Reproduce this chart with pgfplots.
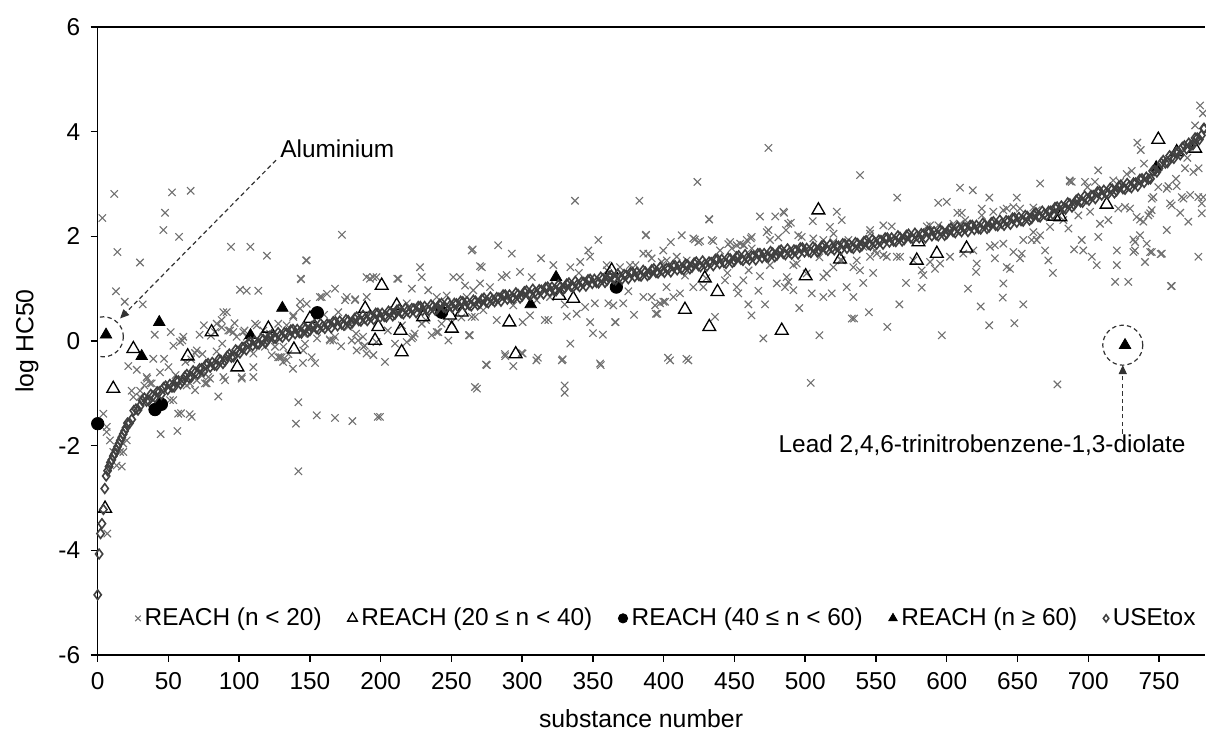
\documentclass[border=0pt]{standalone}
\usepackage{fontspec}
\setmainfont{Liberation Sans}
\usepackage{pgfplots}
\pgfplotsset{compat=1.18}
\usetikzlibrary{arrows.meta}
\definecolor{crossgray}{RGB}{112,112,112}
\definecolor{bandgray}{RGB}{64,64,64}
\definecolor{annot}{RGB}{50,50,50}
\begin{document}
\fontsize{12.2}{14.6}\selectfont
\begin{tikzpicture}[font=\fontsize{12.2}{14.6}\selectfont]
\useasboundingbox (-48.85pt,-38pt) rectangle (554.15pt,327.5pt);
\begin{axis}[
  at={(0pt,0pt)}, anchor=south west,
  scale only axis, width=553.65pt, height=314pt,
  xmin=0, xmax=782.5, ymin=-6, ymax=6,
  axis y line*=left,
  xtick={0,50,...,750}, ytick={-6,-4,...,6},
  xtick pos=bottom,
  tick align=outside, major tick length=3.5pt,
  axis line style={line width=0.75pt, black},
  every tick/.style={black, line width=0.75pt},
  /pgf/number format/assume math mode=true,
  tick label style={font=\fontsize{12.2}{14.6}\selectfont},
  xticklabel style={yshift=-1pt},
  yticklabel style={xshift=-1pt},
  xlabel={substance number}, ylabel={log HC50},
  label style={font=\fontsize{12.4}{14.6}\selectfont},
  xlabel style={at={(axis description cs:0.4907,0)}, anchor=base, yshift=-36.5pt},
  ylabel style={at={(axis description cs:-0.0638,0.5)}, anchor=center},
  legend image code/.code={\draw[#1,/tikz/every mark/.append style={scale=0.75}] plot coordinates {(0.1cm,0cm)};},
  legend style={at={(axis cs:22,-5.30)}, anchor=west, draw=none, fill=none,
    legend columns=-1, font=\fontsize{12.2}{14.6}\selectfont,
    /tikz/every even column/.append style={column sep=11pt},
    nodes={inner xsep=2pt}},
]
% REACH n < 20
\addplot[only marks, mark=x, mark size=2.6pt, crossgray, mark options={line width=0.55pt}] coordinates {
(3.3,2.35)(11.7,2.81)(13.9,1.70)(29.9,1.50)(12.9,0.95)(19.1,0.75)(31.8,0.70)(52.5,2.84)(65.7,2.87)(47.6,2.45)(46.4,2.12)(57.5,1.99)(94.2,1.80)(91.2,0.55)(40.3,0.12)(51.6,0.17)(59.8,0.01)(53.5,-0.09)(39.3,-0.34)(46.9,-0.34)(21.6,-0.48)(27.6,-0.55)(85.2,-1.06)(88.8,-0.69)(53.4,-1.13)(58.9,-1.38)(66.4,-1.45)(65,-1.40)(44.5,-1.78)(56.3,-1.72)(17,-2.40)(18.1,-2.12)(6.8,-3.68)(4,-1.39)(6.3,-1.74)(35,-0.72)(37,-0.81)(101.8,-0.72)
(60.5,0.08)(68.8,-0.23)(65.2,-0.81)(68.8,-0.94)(77,-0.81)(78.2,-0.69)(90,-0.75)(98.2,0.08)(58.2,-0.02)(70,-0.18)(84.1,0.33)(87.6,0.40)(88.8,0.55)(82.9,0.17)(93.5,0.20)(95.8,0.17)(34.6,-0.69)(38.2,-0.81)(25.2,-1.07)(29.9,-1.07)(51.1,-1.13)(56.9,-1.39)(6.4,-1.64)(18.1,-1.96)(15.8,-2.12)(13.4,-2.38)(8.7,-1.90)(11,-2.12)(70,-0.75)(73.5,-0.66)(75.8,-0.81)(79.4,-0.72)(62.9,-0.85)(20.5,-1.90)(92.3,0.20)(87.6,0.26)(96.7,0.34)(80,0.1)(75,0.3)(72,0.12)(84,-0.2)(88,-0.05)(62,-0.4)(66,-0.35)(74,-0.25)(44,-0.6)(50,-0.5)(55,-0.65)(24,-0.95)(30,-0.95)(33,-0.85)
(100.6,0.98)(105.3,0.96)(113.5,0.96)(107.9,1.80)(119.6,1.63)(147.7,1.54)(172.6,2.03)(143.7,1.18)(147.7,0.71)(110,-0.69)(141.8,-1.17)(140.1,-1.58)(154.8,-1.42)(167.7,-1.47)(180,-1.53)(197.9,-1.45)(141.8,-2.49)(131,-0.40)(138,-0.53)(145,-0.42)(153.6,-0.42)
(105.3,0.08)(111.2,0.33)(117,-0.05)(123,-0.27)(127.6,-0.31)(131.2,-0.11)(127.6,0.33)(110,-0.50)(101.8,-0.69)(102.9,0.17)(117,0.20)(125.3,-0.11)(130,-0.31)(103.7,0.20)(112.4,0.30)(121.8,0.14)(133.5,0.30)(138.2,0.49)(143,0.75)(118.2,-0.11)(110,-0.24)(128.8,-0.31)(134.8,-0.25)(145.3,0.14)(145.3,-0.18)(151.2,-0.31)
(157,0.84)(167.7,1.0)(162,0.9)(174.8,0.78)(182,0.80)(190,1.22)(194.7,1.22)(164,0.03)(166.5,0.01)(184,0.01)(188.8,-0.09)(177,0.27)(182.6,0.14)(158.3,0.84)(176,0.84)(181.8,0.78)(190.1,0.84)(164.2,0.01)(167.7,0.08)(179.5,0.01)(187.5,0.08)(187.7,-0.11)(138.2,0.46)(143,0.62)(133.6,-0.37)(146.5,-0.05)(183,-0.18)(197,-0.02)(190,-0.24)(194.8,-0.27)(143.5,1.19)(147.2,1.54)(192.4,1.19)(197,1.22)(160,0.5)(170,0.55)(155,0.05)(172,-0.1)
(203,-0.40)(199.5,-1.45)(212.5,1.19)(211.7,1.19)(222,1.0)(227.8,1.41)(229,1.22)(222,0.05)(224,0.14)(218.4,0.72)(225.4,0.65)(233.6,0.97)(239.6,0.84)(246.6,0.87)(260.8,0.84)(210.1,-0.05)(218.4,-0.02)(223,0.08)(229,0.33)(239.6,0.17)(247.8,0.01)(262.4,0.11)(236,0.11)(243,0.33)(253.7,0.65)(265.4,0.97)(240.7,0.17)(262.6,0.11)(251.3,1.22)(256,1.22)(259.6,1.06)(264.3,1.73)(265,1.75)(283,1.83)(292.6,1.67)(270.2,1.43)(271.4,1.41)(268,-0.91)(275,-0.46)(293.7,-0.48)(288,-0.29)(300.3,-0.24)(274.4,-0.45)(266.6,-0.88)(270.2,1.10)(277.2,1.03)(285.5,1.22)(289,1.26)(298.4,1.32)(266.6,0.46)(272.5,0.59)(279.6,0.75)(293.7,0.68)(287.8,0.84)(263,0.11)(264.3,0.46)(300.3,0.36)(299.6,-0.23)(287.8,-0.25)(205,0.2)(215,0.3)(232,0.4)(250,0.35)(257,0.45)(282,0.4)
(310,-0.37)(328,-0.37)(330,-0.85)(330,-0.99)(355.5,-0.46)(311,-0.32)(328.6,-0.35)(355,-0.43)(337.3,2.68)(382.8,2.68)(313.3,1.58)(353.8,1.93)(387.3,2.02)(346.7,1.73)(394.5,0.52)(379,0.50)(366,0.36)(348,0.36)(350,0.15)(357,0.12)(334,-0.05)(305.5,0.49)(316,0.40)(318.5,0.40)(331.5,0.47)(365.6,0.36)(395.5,0.52)(306.7,1.22)(322,1.45)(334,1.41)(341,1.51)(348,1.61)(359.7,1.45)(369.1,1.41)(376.2,1.45)(385.6,1.67)(389.1,1.67)(391.5,1.58)(398.6,1.51)(399.7,1.73)(310.2,0.78)(338.5,0.52)(344.4,0.65)(351.3,0.72)(360.9,0.72)(364.4,0.68)(371.4,0.72)(385.6,0.84)(391.5,0.84)(393.9,0.68)(399.7,0.75)(319.6,0.84)(387.5,2.03)(330,0.7)(375,0.95)(340,1.3)(360,1.35)(380,1.45)
(404.5,-0.37)(417.4,-0.37)(403,-0.32)(416,-0.34)(474,3.69)(423.8,3.04)(432,2.33)(468,2.38)(478.8,2.38)(484.6,2.47)(412.7,2.02)(405,1.89)(422,1.94)(425.7,1.91)(435,1.91)(445.6,1.85)(451.6,1.83)(456.8,1.83)(461.5,1.96)(474,2.12)(481,1.98)(488,2.24)(470.4,0.05)(462,0.49)(459.8,0.70)(471.6,0.70)(466.9,0.96)(468,1.24)(402,1.03)(400.9,0.75)(428,1.03)(436.2,0.46)(443.3,1.16)(451.6,1.03)(452.7,0.91)(456.3,1.16)(495.8,0.63)(486.9,1.22)(488.1,1.13)(491.6,1.45)(494,1.48)(501,1.29)(402.1,1.54)(409.2,1.61)(416.3,1.54)(439.8,1.73)(448.1,1.77)(456.3,1.83)(462.2,1.77)(475.1,1.93)(497.5,1.99)(397.4,0.72)(406.8,0.84)(411.5,0.91)(420.9,1.03)(479.9,1.10)(485.7,1.03)(491.6,0.97)(420.9,1.96)(424.5,1.89)(433.9,1.93)(446.9,1.89)(454,1.86)(458.7,1.93)(462.2,1.99)(472.8,2.08)(486.4,2.12)(489.8,2.26)(495.1,2.02)(432.2,2.32)(485,2.45)(430,1.2)(445,1.3)(460,1.35)(475,1.45)(415,1.25)
(503.9,-0.80)(510,0.11)(545,0.55)(558,0.27)(566.5,0.70)(596.5,0.11)(541,1.11)(571.2,1.11)(582.3,1.02)(548,1.30)(538.7,3.17)(565,2.74)(594,2.64)(600,2.66)(522.3,2.47)(525.8,2.31)(505.3,2.29)(517.5,2.18)(520,2.05)(504.6,0.91)(512.8,0.84)(518.7,0.91)(529.3,1.03)(534,0.84)(512.8,1.22)(515.2,1.29)(519.9,1.41)(525.8,1.54)(532.9,0.43)(505.7,1.96)(512.8,1.93)(519.9,1.89)(530.5,1.93)(555.2,2.21)(561.1,2.19)(588.2,2.21)(545.8,2.12)(545.8,2.05)(534,1.41)(538.7,1.35)(550.5,1.67)(557.6,1.61)(564.7,1.61)(583.5,1.26)(582.3,1.35)(591.7,1.38)(534.5,0.43)(585.9,2.19)(594.1,2.21)(536.4,1.54)(545.8,1.61)(555.2,1.64)(567,1.61)(576.4,1.54)(588.2,1.51)(595.3,1.48)(541,1.80)(549.3,1.73)(510,1.6)(525,1.55)
(609.4,2.93)(618.4,2.88)(630.1,2.74)(649.5,2.74)(666,3.01)(687,3.05)(607.5,2.45)(624.7,2.53)(642.4,2.53)(647.1,2.56)(661.2,2.55)(624,0.66)(639.6,0.83)(654.1,0.70)(647.8,0.34)(621.2,1.48)(620.7,1.32)(634,1.83)(634,1.58)(642.4,1.41)(644.7,1.38)(647.1,1.70)(653,1.67)(651.8,1.58)(660,1.93)(609.4,2.24)(610.6,2.45)(604.7,2.24)(613,2.31)(624.7,2.40)(632.9,2.47)(640,2.50)(651.8,2.53)(663.6,2.50)(602.3,1.61)(611.7,1.67)(618.8,1.73)(630.6,1.80)(640,1.86)(654.1,1.93)(663.6,1.93)(669.5,1.73)(671.8,1.54)(695.4,1.93)(696.5,1.73)(702.5,1.61)(706,1.45)(661.2,2.08)(666,2.02)(673,2.18)(682.4,2.31)(686,2.15)(693,2.40)(678.2,-0.83)(686.9,3.07)(688.3,3.04)(697.7,3.04)(699.4,2.94)(630,0.3)(640,1.1)(615,1.0)(675,1.3)(690,1.75)
(704.8,3.04)(707,3.26)(717.7,3.07)(722.5,3.04)(734.7,3.79)(737.1,3.65)(739.4,3.39)(730.7,3.25)(727.2,3.19)(768.4,3.30)(774.3,3.23)(749.5,2.94)(756.6,2.96)(762.5,2.96)(755.5,2.91)(746,2.75)(744.8,2.50)(757.8,2.63)(759,2.59)(766.1,2.75)(767.3,2.72)(780.2,2.63)(780.2,2.44)(770.7,2.28)(755.5,2.12)(777.8,1.61)(759,1.05)(719,1.13)(728.3,1.13)(720.2,1.73)(720.2,1.45)(707.1,1.99)(733.1,1.89)(741.3,1.86)(740.1,1.51)(736.6,2.02)(731.9,1.70)(744.9,1.70)(752,1.67)(736.6,2.32)(743.7,2.44)(744.9,2.72)(701.3,2.47)(708.3,2.24)(714.2,2.31)(721.2,2.53)(726,2.56)(729.5,2.53)(734.2,2.37)(738.9,2.28)(742.5,2.40)(772,2.79)(777.8,2.75)(781.3,2.75)(775.5,4.12)(781,4.35)(779,4.5)(731.9,1.94)(743.7,1.70)(751.2,1.66)(733,1.73)(758.5,1.05)(762,3.1)(770,3.5)(778,3.3)(765,2.45)
};
\addlegendentry{REACH (n < 20)}
% REACH 20 <= n < 40
\addplot[only marks, mark=triangle, mark size=3.7pt, black, mark options={fill=white, line width=0.65pt}] coordinates {
(5.2,-3.2)(11,-0.91)(25.2,-0.15)(63.6,-0.29)(80.5,0.17)(98.7,-0.50)(120.6,0.24)(138.7,-0.16)(150,0.43)(189,0.62)(196,0.01)(198.3,0.27)(200.7,1.06)(211.3,0.68)(214,0.20)(214.8,-0.21)(230,0.46)(249,0.49)(250.2,0.24)(257.2,0.55)(290.9,0.36)(295.4,-0.25)(326.2,0.87)(336.1,0.81)(363.2,1.35)(415,0.60)(429,1.20)(432.2,0.27)(438,0.94)(483.4,0.20)(500.3,1.24)(509.3,2.50)(524.6,1.56)(578.8,1.54)(580,1.89)(593,1.67)(614,1.77)(676,2.38)(680.3,2.37)(713,2.61)(749.5,3.85)(762.5,3.61)(775.5,3.68)
};
\addlegendentry{REACH (20 ≤ n < 40)}
% REACH 40 <= n < 60
\addplot[only marks, mark=*, mark size=3.1pt, black] coordinates {
(0,-1.58)(40.5,-1.31)(45,-1.21)(155.2,0.54)(243,0.55)(366.5,1.03)
};
\addlegendentry{REACH (40 ≤ n < 60)}
% REACH n >= 60
\addplot[only marks, mark=triangle*, mark size=3.3pt, black] coordinates {
(5.9,0.12)(31.1,-0.29)(43.5,0.36)(108,0.11)(130.5,0.63)(306,0.70)(323.9,1.22)(748,3.32)(726,-0.08)
};
\addlegendentry{REACH (n ≥ 60)}
% USEtox (dense part of the ranked series)
\addplot[forget plot, only marks, mark=diamond, mark size=2.4pt, bandgray, mark options={line width=0.8pt, fill=bandgray!75!white}] coordinates {
(10,-2.27)(11,-2.20)(12,-2.15)(13,-2.08)(14,-2.02)(15,-1.96)(16,-1.90)(17,-1.84)(18,-1.78)(19,-1.72)(20,-1.66)
(21,-1.57)(24,-1.50)(27,-1.30)(30,-1.24)(33,-1.09)(36,-1.14)(39,-1.05)(42,-0.97)(45,-1.02)(48,-0.86)
(51,-0.83)(54,-0.88)(57,-0.76)(60,-0.77)(63,-0.64)(66,-0.69)(69,-0.60)(72,-0.53)(75,-0.58)(78,-0.43)
(81,-0.41)(84,-0.47)(87,-0.37)(90,-0.38)(93,-0.25)(96,-0.30)(99,-0.20)(102,-0.12)(105,-0.17)(108,-0.02)
(111,0.00)(114,-0.06)(117,0.03)(120,0.01)(123,0.12)(126,0.05)(129,0.11)(132,0.16)(135,0.09)(138,0.22)
(141,0.22)(144,0.15)(147,0.24)(150,0.20)(153,0.31)(156,0.22)(159,0.28)(162,0.32)(165,0.25)(168,0.37)
(171,0.38)(174,0.30)(177,0.39)(180,0.35)(183,0.46)(186,0.38)(189,0.43)(192,0.48)(195,0.41)(198,0.53)
(201,0.53)(204,0.46)(207,0.55)(210,0.51)(213,0.61)(216,0.52)(219,0.58)(222,0.62)(225,0.54)(228,0.66)
(231,0.66)(234,0.58)(237,0.66)(240,0.62)(243,0.72)(246,0.63)(249,0.68)(252,0.72)(255,0.64)(258,0.75)
(261,0.75)(264,0.67)(267,0.76)(270,0.72)(273,0.82)(276,0.73)(279,0.79)(282,0.83)(285,0.76)(288,0.88)
(291,0.88)(294,0.81)(297,0.89)(300,0.86)(303,0.96)(306,0.88)(309,0.93)(312,0.98)(315,0.90)(318,1.03)
(321,1.03)(324,0.96)(327,1.04)(330,1.01)(333,1.11)(336,1.03)(339,1.08)(342,1.13)(345,1.05)(348,1.18)
(351,1.18)(354,1.11)(357,1.19)(360,1.16)(363,1.26)(366,1.17)(369,1.22)(372,1.27)(375,1.19)(378,1.31)
(381,1.31)(384,1.24)(387,1.32)(390,1.28)(393,1.38)(396,1.30)(399,1.35)(402,1.39)(405,1.32)(408,1.44)
(411,1.44)(414,1.36)(417,1.45)(420,1.41)(423,1.51)(426,1.42)(429,1.47)(432,1.51)(435,1.44)(438,1.56)
(441,1.56)(444,1.48)(447,1.57)(450,1.53)(453,1.63)(456,1.54)(459,1.59)(462,1.63)(465,1.55)(468,1.67)
(471,1.67)(474,1.60)(477,1.68)(480,1.64)(483,1.74)(486,1.65)(489,1.70)(492,1.74)(495,1.66)(498,1.78)
(501,1.77)(504,1.69)(507,1.77)(510,1.73)(513,1.83)(516,1.73)(519,1.78)(522,1.82)(525,1.74)(528,1.85)
(531,1.85)(534,1.77)(537,1.86)(540,1.82)(543,1.92)(546,1.83)(549,1.89)(552,1.93)(555,1.85)(558,1.97)
(561,1.97)(564,1.90)(567,1.98)(570,1.94)(573,2.04)(576,1.95)(579,2.01)(582,2.05)(585,1.97)(588,2.09)
(591,2.09)(594,2.01)(597,2.09)(600,2.05)(603,2.16)(606,2.07)(609,2.13)(612,2.17)(615,2.09)(618,2.21)
(621,2.21)(624,2.14)(627,2.22)(630,2.18)(633,2.28)(636,2.20)(639,2.25)(642,2.30)(645,2.23)(648,2.35)
(651,2.36)(654,2.29)(657,2.38)(660,2.34)(663,2.45)(666,2.37)(669,2.43)(672,2.48)(675,2.42)(678,2.56)
(681,2.58)(684,2.52)(687,2.62)(690,2.60)(693,2.72)(696,2.65)(699,2.72)(702,2.78)(705,2.72)(708,2.86)
(711,2.88)(714,2.81)(717,2.90)(720,2.87)(723,2.98)(726,2.90)(729,2.96)(732,3.02)(735,2.96)(738,3.10)
(741,3.13)(744,3.10)(747,3.26)(750,3.30)(753,3.45)(756,3.41)(759,3.51)(762,3.60)(765,3.56)(768,3.73)
(771,3.78)(774,3.75)(777,3.88)(780,3.93)(782,4.06)
(22.5,-1.57)(25.5,-1.33)(28.5,-1.32)(31.5,-1.14)(34.5,-1.15)(37.5,-1.02)(40.5,-1.08)(43.5,-0.97)(46.5,-0.89)(49.5,-0.93)
(52.5,-0.88)(55.5,-0.76)(58.5,-0.82)(61.5,-0.68)(64.5,-0.70)(67.5,-0.57)(70.5,-0.63)(73.5,-0.53)(76.5,-0.45)(79.5,-0.50)
(82.5,-0.46)(85.5,-0.35)(88.5,-0.43)(91.5,-0.29)(94.5,-0.31)(97.5,-0.17)(100.5,-0.23)(103.5,-0.12)(106.5,-0.04)(109.5,-0.09)
(112.5,-0.06)(115.5,0.05)(118.5,-0.04)(121.5,0.09)(124.5,0.05)(127.5,0.16)(130.5,0.07)(133.5,0.15)(136.5,0.21)(139.5,0.14)
(142.5,0.16)(145.5,0.26)(148.5,0.17)(151.5,0.28)(154.5,0.24)(157.5,0.33)(160.5,0.24)(163.5,0.31)(166.5,0.37)(169.5,0.29)
(172.5,0.32)(175.5,0.41)(178.5,0.32)(181.5,0.43)(184.5,0.39)(187.5,0.49)(190.5,0.39)(193.5,0.47)(196.5,0.53)(199.5,0.45)
(202.5,0.47)(205.5,0.57)(208.5,0.48)(211.5,0.59)(214.5,0.54)(217.5,0.63)(220.5,0.54)(223.5,0.61)(226.5,0.66)(229.5,0.58)
(232.5,0.60)(235.5,0.69)(238.5,0.59)(241.5,0.70)(244.5,0.65)(247.5,0.74)(250.5,0.64)(253.5,0.71)(256.5,0.76)(259.5,0.67)
(262.5,0.69)(265.5,0.78)(268.5,0.69)(271.5,0.80)(274.5,0.75)(277.5,0.84)(280.5,0.75)(283.5,0.82)(286.5,0.88)(289.5,0.80)
(292.5,0.82)(295.5,0.92)(298.5,0.82)(301.5,0.94)(304.5,0.89)(307.5,0.99)(310.5,0.89)(313.5,0.97)(316.5,1.02)(319.5,0.95)
(322.5,0.97)(325.5,1.07)(328.5,0.97)(331.5,1.09)(334.5,1.04)(337.5,1.14)(340.5,1.04)(343.5,1.12)(346.5,1.17)(349.5,1.10)
(352.5,1.12)(355.5,1.22)(358.5,1.12)(361.5,1.24)(364.5,1.19)(367.5,1.28)(370.5,1.18)(373.5,1.26)(376.5,1.31)(379.5,1.23)
(382.5,1.25)(385.5,1.35)(388.5,1.25)(391.5,1.36)(394.5,1.31)(397.5,1.41)(400.5,1.31)(403.5,1.38)(406.5,1.44)(409.5,1.36)
(412.5,1.38)(415.5,1.47)(418.5,1.38)(421.5,1.49)(424.5,1.44)(427.5,1.53)(430.5,1.43)(433.5,1.50)(436.5,1.56)(439.5,1.48)
(442.5,1.50)(445.5,1.59)(448.5,1.50)(451.5,1.61)(454.5,1.56)(457.5,1.65)(460.5,1.55)(463.5,1.62)(466.5,1.67)(469.5,1.59)
(472.5,1.61)(475.5,1.71)(478.5,1.61)(481.5,1.72)(484.5,1.67)(487.5,1.76)(490.5,1.66)(493.5,1.73)(496.5,1.78)(499.5,1.70)
(502.5,1.71)(505.5,1.80)(508.5,1.70)(511.5,1.81)(514.5,1.76)(517.5,1.84)(520.5,1.74)(523.5,1.81)(526.5,1.86)(529.5,1.77)
(532.5,1.79)(535.5,1.88)(538.5,1.79)(541.5,1.90)(544.5,1.85)(547.5,1.94)(550.5,1.85)(553.5,1.92)(556.5,1.97)(559.5,1.89)
(562.5,1.91)(565.5,2.01)(568.5,1.91)(571.5,2.02)(574.5,1.97)(577.5,2.06)(580.5,1.97)(583.5,2.04)(586.5,2.09)(589.5,2.01)
(592.5,2.03)(595.5,2.12)(598.5,2.02)(601.5,2.13)(604.5,2.09)(607.5,2.18)(610.5,2.09)(613.5,2.16)(616.5,2.21)(619.5,2.13)
(622.5,2.15)(625.5,2.25)(628.5,2.15)(631.5,2.26)(634.5,2.21)(637.5,2.31)(640.5,2.21)(643.5,2.29)(646.5,2.35)(649.5,2.27)
(652.5,2.30)(655.5,2.40)(658.5,2.31)(661.5,2.42)(664.5,2.38)(667.5,2.48)(670.5,2.40)(673.5,2.48)(676.5,2.55)(679.5,2.49)
(682.5,2.53)(685.5,2.64)(688.5,2.56)(691.5,2.69)(694.5,2.66)(697.5,2.77)(700.5,2.69)(703.5,2.78)(706.5,2.85)(709.5,2.79)
(712.5,2.82)(715.5,2.92)(718.5,2.83)(721.5,2.95)(724.5,2.91)(727.5,3.01)(730.5,2.93)(733.5,3.02)(736.5,3.09)(739.5,3.03)
(742.5,3.09)(745.5,3.25)(748.5,3.23)(751.5,3.40)(754.5,3.40)(757.5,3.54)(760.5,3.49)(763.5,3.61)(766.5,3.70)(769.5,3.67)
(772.5,3.74)(775.5,3.88)(778.5,3.85)(781.5,4.06)
};
% USEtox (sparse low end)
\addplot[only marks, mark=diamond, mark size=2.4pt, bandgray, mark options={line width=0.8pt, fill=none}] coordinates {
(0,-4.85)(1,-4.07)(2,-3.68)(3,-3.49)(4,-3.22)(5,-2.82)(6,-2.58)(7,-2.48)(8,-2.40)(9,-2.32)
};
\addlegendentry{USEtox}
% annotations
\draw[annot, line width=0.6pt, dash pattern=on 2.2pt off 1.6pt] (axis cs:4.0,0.08) circle[radius=10pt];
\draw[annot, line width=0.6pt, dash pattern=on 2.2pt off 1.6pt, -{Triangle[length=4.5pt,width=4pt]}] (axis cs:126,3.455) -- (axis cs:15.8,0.43);
\node[anchor=west, inner sep=0pt] at (axis cs:128.8,3.675) {Aluminium};
\draw[annot, line width=0.6pt, dash pattern=on 2.2pt off 1.6pt] (axis cs:724.4,-0.08) circle[radius=10pt];
\draw[annot, line width=0.6pt, dash pattern=on 2.2pt off 1.6pt, -{Triangle[length=4.5pt,width=4pt]}] (axis cs:724.4,-1.77) -- (axis cs:724.4,-0.46);
\node[anchor=center, inner sep=0pt] at (axis cs:625,-1.99) {Lead 2,4,6-trinitrobenzene-1,3-diolate};
\end{axis}
\end{tikzpicture}
\end{document}
